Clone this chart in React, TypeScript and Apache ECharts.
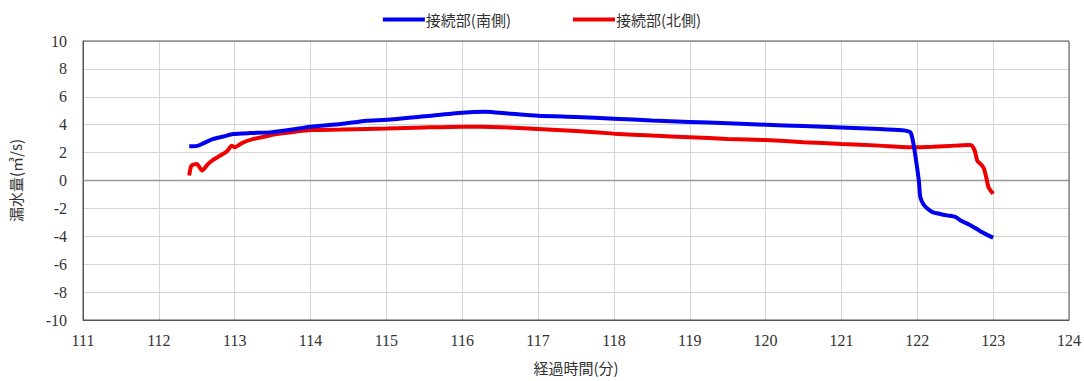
import React, { useEffect, useRef } from "react";
import * as echarts from "echarts";

const southName = "接続部(南側)";
const northName = "接続部(北側)";

const southX = [112.4, 112.45, 112.52, 112.6, 112.72, 112.85, 112.98, 113.2, 113.47, 113.75, 114.0, 114.4, 114.74, 115.0, 115.5, 116.0, 116.3, 116.6, 117.0, 117.5, 118.0, 118.5, 119.0, 119.5, 120.0, 120.5, 121.0, 121.5, 121.8, 121.91, 121.95, 121.99, 122.02, 122.04, 122.08, 122.14, 122.2, 122.3, 122.39, 122.5, 122.57, 122.7, 122.82, 122.94, 123.0];
const southY = [2.45, 2.45, 2.5, 2.7, 2.98, 3.15, 3.33, 3.4, 3.45, 3.65, 3.86, 4.05, 4.29, 4.35, 4.6, 4.86, 4.92, 4.8, 4.64, 4.55, 4.43, 4.3, 4.2, 4.1, 4.0, 3.9, 3.8, 3.7, 3.6, 3.45, 2.6, 1.2, 0.0, -1.2, -1.7, -2.05, -2.26, -2.4, -2.5, -2.6, -2.86, -3.2, -3.6, -3.95, -4.1];

const northX = [112.4, 112.43, 112.5, 112.57, 112.65, 112.72, 112.81, 112.9, 112.96, 113.0, 113.1, 113.25, 113.4, 113.55, 113.8, 114.0, 114.4, 114.74, 115.0, 115.5, 116.0, 116.5, 117.0, 117.5, 118.0, 118.5, 119.0, 119.5, 120.0, 120.5, 121.0, 121.5, 121.95, 122.2, 122.5, 122.68, 122.72, 122.76, 122.79, 122.85, 122.88, 122.91, 122.94, 123.0];
const northY = [0.36, 1.07, 1.19, 0.71, 1.19, 1.5, 1.79, 2.1, 2.5, 2.38, 2.7, 2.98, 3.15, 3.33, 3.5, 3.62, 3.65, 3.69, 3.72, 3.8, 3.86, 3.82, 3.7, 3.55, 3.36, 3.22, 3.1, 2.98, 2.9, 2.75, 2.62, 2.5, 2.38, 2.42, 2.5, 2.55, 2.5, 2.1, 1.43, 1.1, 0.83, 0.2, -0.5, -0.95];

const xMin = 111;
const xMax = 124;
const yMin = -10;
const yMax = 10;

const serif = "serif";
const jp = "Noto Sans CJK JP";

const GL = 83;
const GR = 15;
const GT = 41;
const GB = 61;

export default function App() {
  const ref = useRef<HTMLDivElement>(null);
  useEffect(() => {
    if (!ref.current) return;
    const chart = echarts.init(ref.current, null, { renderer: "svg" });
    const south = southX.map((x, i) => [x, southY[i]]);
    const north = northX.map((x, i) => [x, northY[i]]);
    chart.setOption({
      animation: false,
      backgroundColor: "#ffffff",
      legend: {
        top: 7,
        left: "center",
        itemGap: 62,
        itemWidth: 42,
        itemHeight: 4,
        icon: "rect",
        textStyle: { fontFamily: jp, fontSize: 15, color: "#333", padding: [0, 0, 0, -4] },
        data: [southName, northName],
      },
      grid: { left: GL, right: GR, top: GT, bottom: GB, containLabel: false },
      xAxis: {
        type: "value",
        min: xMin,
        max: xMax,
        interval: 1,
        name: "経過時間(分)",
        nameLocation: "middle",
        nameGap: 40,
        nameTextStyle: { fontFamily: jp, fontSize: 15, color: "#333" },
        axisLine: { show: true, onZero: false, lineStyle: { color: "#555", width: 1 } },
        axisTick: { show: false },
        axisLabel: { fontFamily: serif, fontSize: 16, color: "#333", margin: 12 },
        splitLine: { show: true, lineStyle: { color: "#d4d4d4", width: 1 } },
      },
      yAxis: {
        type: "value",
        min: yMin,
        max: yMax,
        interval: 2,
        name: "漏水量(㎥/s)",
        nameLocation: "middle",
        nameGap: 60,
        nameRotate: 90,
        nameTextStyle: { fontFamily: jp, fontSize: 15, color: "#333" },
        axisLine: { show: true, onZero: false, lineStyle: { color: "#555", width: 1 } },
        axisTick: { show: false },
        axisLabel: { fontFamily: serif, fontSize: 16, color: "#333", margin: 16 },
        splitLine: { show: true, lineStyle: { color: "#d4d4d4", width: 1 } },
      },
      graphic: [
        {
          type: "rect",
          shape: { x: GL, y: GT, width: 1084 - GL - GR, height: 381 - GT - GB },
          style: { fill: "none", stroke: "#555", lineWidth: 1 },
          silent: true,
          z: 100,
        },
      ],
      series: [
        {
          name: southName,
          type: "line",
          data: south,
          showSymbol: false,
          smooth: 0.2,
          lineStyle: { color: "#0000ee", width: 4 },
          itemStyle: { color: "#0000ee" },
          z: 3,
        },
        {
          name: northName,
          type: "line",
          data: north,
          showSymbol: false,
          smooth: 0.2,
          lineStyle: { color: "#ee0000", width: 4 },
          itemStyle: { color: "#ee0000" },
          z: 2,
        },
        {
          type: "line",
          data: [[xMin, 0], [xMax, 0]],
          showSymbol: false,
          silent: true,
          lineStyle: { color: "#999", width: 1.5 },
          z: 1,
        },
      ],
    });
    return () => chart.dispose();
  }, []);
  return <div ref={ref} style={{ width: 1084, height: 381, position: "absolute", left: 0, top: 0 }} />;
}
